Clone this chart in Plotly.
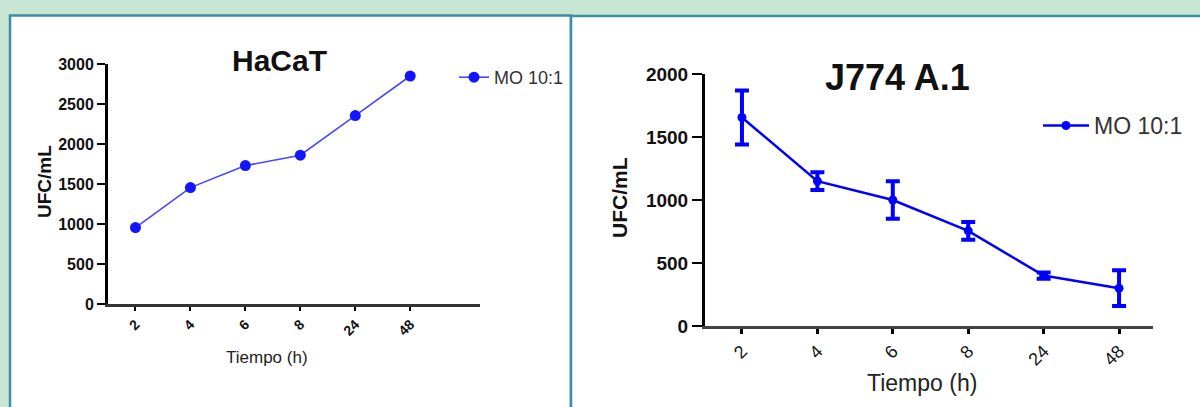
import plotly.graph_objects as go

# ---- data ----
time_labels = ["2", "4", "6", "8", "24", "48"]
hacat_ufc = [955, 1455, 1730, 1860, 2355, 2850]
j774_ufc = [1655, 1150, 1000, 755, 400, 300]
j774_err = [215, 70, 148, 70, 25, 142]
series_name = "MO 10:1"

W, H = 1200, 407
FONT = "Liberation Sans, Arial, sans-serif"
BLUE = "#0000ff"

def px(x):
    return x / W

def py(y):
    return 1 - y / H

idx = list(range(len(time_labels)))

fig = go.Figure()

fig.add_trace(go.Scatter(
    x=idx, y=hacat_ufc, mode="lines+markers", name=series_name,
    line=dict(color="#4646ff", width=1.6),
    marker=dict(color="#1414ff", size=11, symbol="circle"),
    xaxis="x", yaxis="y", legend="legend",
))

fig.add_trace(go.Scatter(
    x=idx, y=j774_ufc, mode="lines+markers", name=series_name,
    line=dict(color=BLUE, width=2.5),
    marker=dict(color=BLUE, size=9, symbol="circle"),
    error_y=dict(type="data", array=j774_err, visible=True,
                 color=BLUE, thickness=4, width=7),
    xaxis="x2", yaxis="y2", legend="legend2",
))

base = dict(showgrid=False, zeroline=False, showline=True, ticks="outside",
            tickcolor="black", automargin=False)

fig.update_layout(
    width=W, height=H,
    autosize=False,
    margin=dict(l=0, r=0, t=0, b=0, pad=0, autoexpand=False),
    paper_bgcolor="#c8e6d3",
    plot_bgcolor="rgba(0,0,0,0)",
    font=dict(family=FONT, color="#111"),
    xaxis=dict(domain=[px(108), px(480)], range=[-0.50, 6.27],
               tickvals=idx, ticktext=time_labels, tickangle=-45,
               ticklen=4, tickwidth=2, linewidth=2.5, linecolor="#333",
               tickfont=dict(size=14, color="#111", weight="bold"), anchor="y", **base),
    yaxis=dict(domain=[py(304), py(64)], range=[0, 3000],
               tickvals=[0, 500, 1000, 1500, 2000, 2500, 3000],
               ticklen=8, tickwidth=1.5, linewidth=3, linecolor="black",
               tickfont=dict(size=16, color="#111", weight="bold"), anchor="x", **base),
    xaxis2=dict(domain=[px(705), px(1153)], range=[-0.49, 5.45],
                tickvals=idx, ticktext=time_labels, tickangle=-45,
                ticklen=5, tickwidth=3, linewidth=2.5, linecolor="#444",
                tickfont=dict(size=18, color="#111"), anchor="y2", **base),
    yaxis2=dict(domain=[py(326), py(74)], range=[0, 2000],
                tickvals=[0, 500, 1000, 1500, 2000],
                ticklen=10, tickwidth=2, linewidth=3, linecolor="black",
                tickfont=dict(size=19, color="#111", weight="bold"), anchor="x2", **base),
    legend=dict(x=px(454), y=py(59), xanchor="left", yanchor="top",
                font=dict(size=18, color="#333"), bgcolor="rgba(0,0,0,0)", itemwidth=30),
    legend2=dict(x=px(1038), y=py(104), xanchor="left", yanchor="top",
                 font=dict(size=23, color="#333"), bgcolor="rgba(0,0,0,0)", itemwidth=46),
    showlegend=True,
)

# panel backgrounds
fig.add_shape(type="rect", xref="paper", yref="paper", x0=px(10), x1=px(571), y0=py(410), y1=py(15.5),
              fillcolor="white", line=dict(color="#3a8ea6", width=2.5), layer="below")
fig.add_shape(type="rect", xref="paper", yref="paper", x0=px(571), x1=px(1205), y0=py(410), y1=py(16),
              fillcolor="white", line=dict(color="#3a8ea6", width=2.5), layer="below")

# titles and axis titles
def note(text, x, y, size, color="#111", angle=0):
    fig.add_annotation(text=text, x=px(x), y=py(y), xref="paper", yref="paper",
                       xanchor="center", yanchor="middle", showarrow=False,
                       textangle=angle, font=dict(size=size, color=color))

note("<b>HaCaT</b>", 279, 60, 30)
note("<b>J774 A.1</b>", 897, 77, 36)
note("<b>UFC/mL</b>", 44, 182, 19, angle=-90)
note("<b>UFC/mL</b>", 619, 198, 21, angle=-90)
note("Tiempo (h)", 267, 357, 17, color="#222")
note("Tiempo (h)", 922, 383, 23, color="#222")

fig.write_html("out.html", config={"displayModeBar": False},
               post_script="document.body.style.margin='0';document.body.style.padding='0';")
